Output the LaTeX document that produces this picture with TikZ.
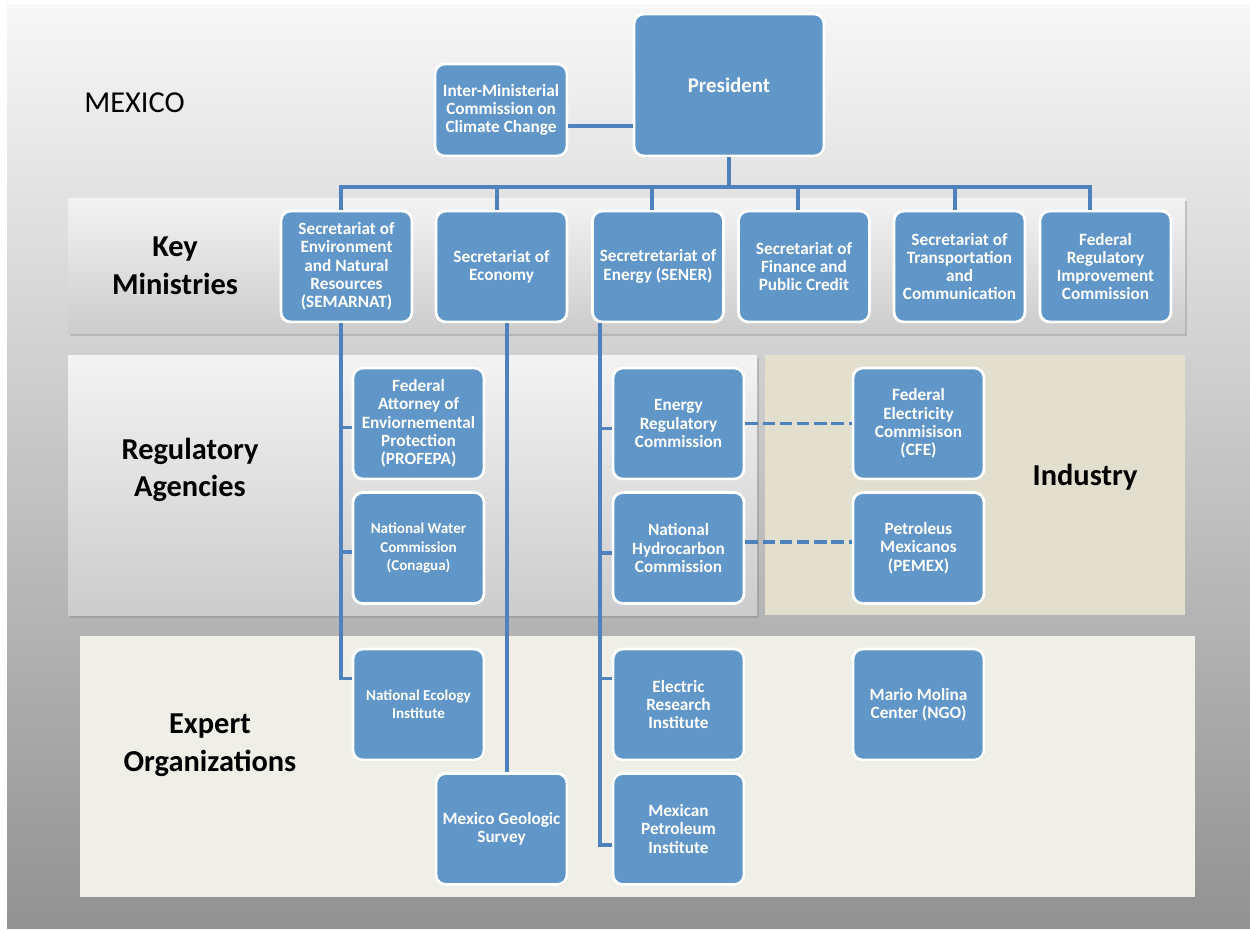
\documentclass[tikz,border=0pt]{standalone}
\usepackage{fontspec}
\setmainfont{Carlito}
\usetikzlibrary{calc,shadows}
\definecolor{box}{RGB}{97,150,201}
\definecolor{link}{RGB}{79,129,189}
\definecolor{industry}{RGB}{226,223,206}
\definecolor{expert}{RGB}{239,239,231}
\definecolor{slidetop}{RGB}{247,247,247}
\definecolor{slidebot}{RGB}{146,146,146}
\definecolor{bandtop}{RGB}{243,243,243}
\definecolor{bandbot}{RGB}{204,204,204}

\begin{document}
\begin{tikzpicture}[x=0.02cm, y=-0.02cm,
 every text node part/.style={align=center},
 block/.style={rectangle, rounded corners=5.5pt, draw=white, line width=1.6pt, fill=box, text=white,
   inner sep=1pt, minimum width=2.62cm, minimum height=2.22cm,
   font=\bfseries\fontsize{9.8}{10.4}\selectfont,
   drop shadow={shadow xshift=0.6pt, shadow yshift=-0.8pt, opacity=0.25}},
 smallfont/.style={font=\bfseries\fontsize{8.6}{10.4}\selectfont},
 title/.style={font=\bfseries\fontsize{17.3}{21.5}\selectfont, inner sep=0pt},
 band/.style={top color=bandtop, bottom color=bandbot, drop shadow={shadow xshift=1.2pt, shadow yshift=-1.8pt, opacity=0.35}},
 link/.style={draw=link, line width=2.2pt},
 dashedlink/.style={link, dash pattern=on 7pt off 2.8pt}]

	\fill[white] (0,0) rectangle (1250,930);
	\shade[top color=slidetop, bottom color=slidebot] (7,4) rectangle (1250,928);

	\shade[band] (68,198) rectangle (1185,333);
	\shade[band] (68,355) rectangle (757,615);
	\fill[industry] (765,355) rectangle (1185,615);
	\fill[expert] (80,636) rectangle (1195,897);

	\node[anchor=west, inner sep=0pt, font=\fontsize{17.3}{20}\selectfont] (mexico) at (84,103) {MEXICO};
	\node[title] (keymin) at (175,266) {Key\\Ministries};
	\node[title] (regag) at (190,470) {Regulatory\\Agencies};
	\node[title] (industry) at (1085,477) {Industry};
	\node[title] (expertorg) at (210,745) {Expert\\Organizations};

	\node[block, minimum width=2.64cm, minimum height=1.84cm] (imccc) at (501,110) {Inter-Ministerial\\Commission on\\Climate Change};
	\node[block, minimum width=3.8cm, minimum height=2.84cm, font=\bfseries\fontsize{11.9}{14}\selectfont] (pres) at (729,85) {President};

	\node[block] (semarnat) at (346.5,266.5) {Secretariat of\\Environment\\and Natural\\Resources\\(SEMARNAT)};
	\node[block] (econ) at (501.5,266.5) {Secretariat of\\Economy};
	\node[block] (sener) at (658,266.5) {Secretretariat of\\Energy (SENER)};
	\node[block] (finance) at (804,266.5) {Secretariat of\\Finance and\\Public Credit};
	\node[block] (transp) at (959.5,266.5) {Secretariat of\\Transportation\\and\\Communication};
	\node[block] (cofemer) at (1105.5,266.5) {Federal\\Regulatory\\Improvement\\Commission};

	\node[block] (profepa) at (418.5,423.5) {Federal\\Attorney of\\Enviornemental\\Protection\\(PROFEPA)};
	\node[block, smallfont] (conagua) at (418.5,548) {National Water\\Commission\\(Conagua)};
	\node[block] (cre) at (678.5,423.5) {Energy\\Regulatory\\Commission};
	\node[block] (cnh) at (678.5,548) {National\\Hydrocarbon\\Commission};
	\node[block] (cfe) at (918.5,423.5) {Federal\\Electricity\\Commisison\\(CFE)};
	\node[block] (pemex) at (918.5,548) {Petroleus\\Mexicanos\\(PEMEX)};

	\node[block, smallfont] (ine) at (418.5,704.5) {National Ecology\\Institute};
	\node[block] (sgm) at (501.5,829) {Mexico Geologic\\Survey};
	\node[block] (iie) at (678.5,704.5) {Electric\\Research\\Institute};
	\node[block] (imp) at (678.5,829) {Mexican\\Petroleum\\Institute};
	\node[block] (molina) at (918.5,704.5) {Mario Molina\\Center (NGO)};

	\draw[link] ($(imccc.east)+(0,16)$) coordinate (imlink) -- (imlink -| pres.west);
	\draw[link] (pres.south) -- ++(0,30) coordinate (bus);
	\foreach \n/\dx in {semarnat/-5.5, econ/-4.5, sener/-6, finance/-6, transp/-4.5, cofemer/-15.5}
		\draw[link] (bus) -| ($(\n.north)+(\dx,0)$);

	\coordinate (semline) at ($(semarnat.south)+(-5.5,0)$);
	\draw[link] (semline) |- ($(profepa.west)+(0,4)$);
	\draw[link] (semline) |- ($(conagua.west)+(0,4)$);
	\draw[link] (semline) |- ($(ine.west)+(0,-26)$);

	\draw[link] ($(econ.south)+(5.5,0)$) -- ($(sgm.north)+(5.5,0)$);

	\coordinate (senline) at ($(sener.south)+(-58,0)$);
	\draw[link] (senline) |- ($(cre.west)+(0,5)$);
	\draw[link] (senline) |- ($(cnh.west)+(0,5)$);
	\draw[link] (senline) |- ($(iie.west)+(0,-26)$);
	\draw[link] (senline) |- ($(imp.west)+(0,16)$);

	\draw[dashedlink] (cre.east) -- (cfe.west);
	\draw[dashedlink] ($(cnh.east)+(0,-6)$) -- ($(pemex.west)+(0,-6)$);
\end{tikzpicture}
\end{document}
